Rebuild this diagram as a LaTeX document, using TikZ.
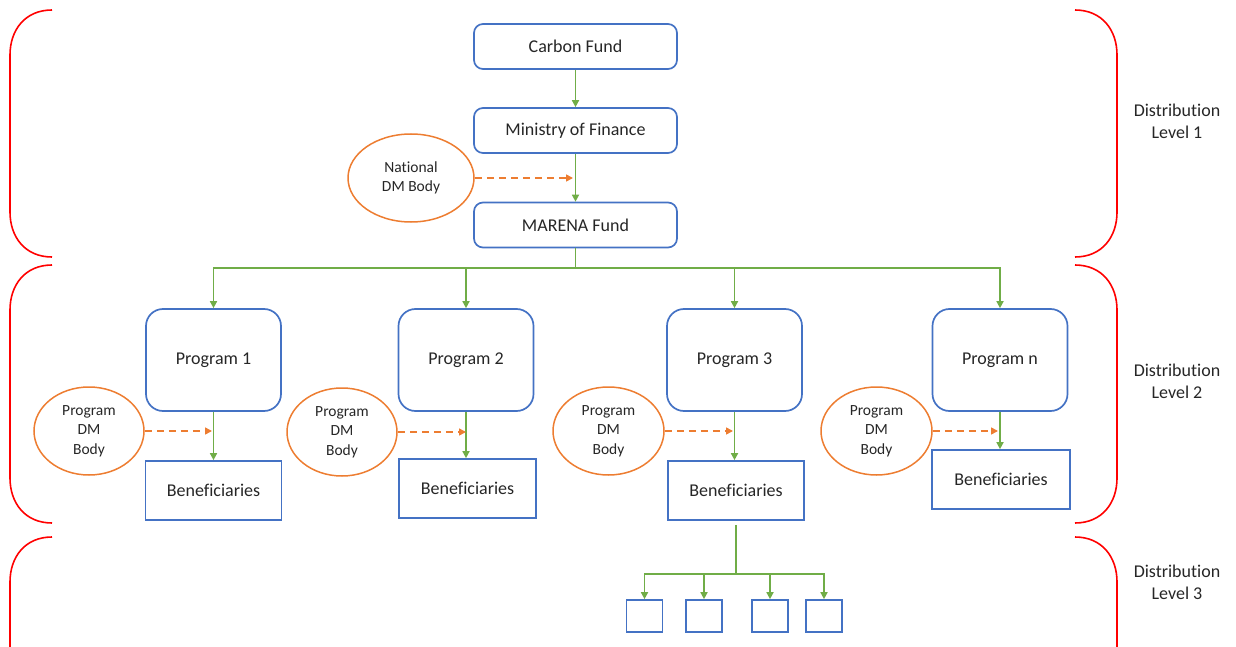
\documentclass[tikz,border=0pt]{standalone}
\usepackage{fontspec}
\setmainfont[Ligatures=NoCommon]{Carlito}
\usetikzlibrary{arrows.meta,shapes.geometric}
\definecolor{bblue}{HTML}{4472C4}
\definecolor{ggreen}{HTML}{70AD47}
\definecolor{oorange}{HTML}{ED7D31}
\definecolor{rred}{HTML}{FF0000}
\tikzset{
  topbox/.style={draw=bblue,line width=1.7pt,rounded corners=9pt,minimum width=203pt,minimum height=45pt,inner sep=0pt,font=\fontsize{18}{22}\selectfont,text=black!85},
  progbox/.style={draw=bblue,line width=1.7pt,rounded corners=17pt,minimum width=135pt,minimum height=102pt,inner sep=0pt,font=\fontsize{18}{22}\selectfont,text=black!85},
  benbox/.style={draw=bblue,line width=1.7pt,minimum width=136pt,minimum height=59pt,inner sep=0pt,font=\fontsize{18}{22}\selectfont,text=black!85},
  smallbox/.style={draw=bblue,line width=1.7pt,minimum width=36pt,minimum height=32pt,inner sep=0pt},
  dmbody/.style={draw=oorange,line width=1.5pt,ellipse,inner sep=0pt,align=center,font=\fontsize{15.5}{19.5}\selectfont,text=black!85},
  garrow/.style={draw=ggreen,line width=1.6pt,-{Triangle[length=7pt,width=7pt]}},
  gline/.style={draw=ggreen,line width=1.6pt},
  darrow/.style={draw=oorange,line width=1.6pt,dash pattern=on 7pt off 5pt,-{Triangle[length=7pt,width=7pt]}},
  brace/.style={draw=rred,line width=1.6pt},
  levellabel/.style={align=center,font=\fontsize{18}{22}\selectfont,text=black!85}
}
\begin{document}
\begin{tikzpicture}[x=1pt,y=-1pt]
\useasboundingbox (0,0) rectangle (1236,647);
% top chain
\node[topbox] (cf) at (575.5,46.5) {Carbon Fund};
\node[topbox] (mof) at (575.5,130.5) {Ministry of Finance};
\node[topbox] (mar) at (575.5,225) {MARENA Fund};
\node[dmbody,minimum width=126pt,minimum height=88pt] (nat) at (411,178) {National\\DM Body};
\draw[garrow] (cf) -- (mof);
\draw[garrow] (mof) -- (mar);
\coordinate (natend) at (573,178);
\draw[darrow] (nat.east) -- (natend);
% programs
\node[progbox] (p1) at (213.5,360) {Program 1};
\node[progbox] (p2) at (466,360) {Program 2};
\node[progbox] (p3) at (734.5,360) {Program 3};
\node[progbox] (p4) at (1000,360) {Program n};
\coordinate (bus) at (575.5,268);
\draw[gline] (mar.south) -- (bus);
\draw[garrow] (bus) -| (p1.north);
\draw[garrow] (bus) -| (p2.north);
\draw[garrow] (bus) -| (p3.north);
\draw[garrow] (bus) -| (p4.north);
% beneficiaries
\node[benbox] (b1) at (213.5,490.5) {Beneficiaries};
\node[benbox,minimum width=137pt] (b2) at (467.5,488.5) {Beneficiaries};
\node[benbox] (b3) at (736,490.5) {Beneficiaries};
\node[benbox,minimum width=138pt] (b4) at (1001,479.5) {Beneficiaries};
\draw[garrow] (p1.south) -- (p1.south |- b1.north);
\draw[garrow] (p2.south) -- (p2.south |- b2.north);
\draw[garrow] (p3.south) -- (p3.south |- b3.north);
\draw[garrow] (p4.south) -- (p4.south |- b4.north);
% program DM bodies
\node[dmbody,minimum width=110pt,minimum height=88pt] (e1) at (89,431) {Program\\DM\\Body};
\node[dmbody,minimum width=110pt,minimum height=88pt] (e2) at (342,432) {Program\\DM\\Body};
\node[dmbody,minimum width=111pt,minimum height=88pt] (e3) at (608.5,431) {Program\\DM\\Body};
\node[dmbody,minimum width=111pt,minimum height=88pt] (e4) at (876.5,431) {Program\\DM\\Body};
\coordinate (d1) at (212,431);
\coordinate (d2) at (466,432);
\coordinate (d3) at (733,431);
\coordinate (d4) at (998,431);
\draw[darrow] (e1.east) -- (d1);
\draw[darrow] (e2.east) -- (d2);
\draw[darrow] (e3.east) -- (d3);
\draw[darrow] (e4.east) -- (d4);
% level 3
\node[smallbox] (s1) at (644.5,616) {};
\node[smallbox] (s2) at (704,616) {};
\node[smallbox] (s3) at (770,616) {};
\node[smallbox] (s4) at (824,616) {};
\coordinate (bus3) at (736,574);
\draw[gline,shorten <=4pt] (b3.south) -- (bus3);
\draw[garrow] (bus3) -| (s1.north);
\draw[garrow] (bus3) -| (s2.north);
\draw[garrow] (bus3) -| (s3.north);
\draw[garrow] (bus3) -| (s4.north);
% braces
\draw[brace] (52,10) .. controls (25,10) and (10,30) .. (10,55) -- (10,212) .. controls (10,237) and (25,257) .. (52,257);
\draw[brace] (52,265) .. controls (25,265) and (10,285) .. (10,310) -- (10,478) .. controls (10,503) and (25,523) .. (52,523);
\draw[brace] (52,537) .. controls (25,537) and (10,557) .. (10,582) -- (10,648);
\draw[brace] (1075,10) .. controls (1102,10) and (1117,30) .. (1117,55) -- (1117,212) .. controls (1117,237) and (1102,257) .. (1075,257);
\draw[brace] (1075,265) .. controls (1102,265) and (1117,285) .. (1117,310) -- (1117,478) .. controls (1117,503) and (1102,523) .. (1075,523);
\draw[brace] (1075,537) .. controls (1102,537) and (1117,557) .. (1117,582) -- (1117,648);
% labels
\node[levellabel] (l1) at (1177,121) {Distribution\\Level 1};
\node[levellabel] (l2) at (1177,381) {Distribution\\Level 2};
\node[levellabel] (l3) at (1177,582) {Distribution\\Level 3};
\end{tikzpicture}
\end{document}
